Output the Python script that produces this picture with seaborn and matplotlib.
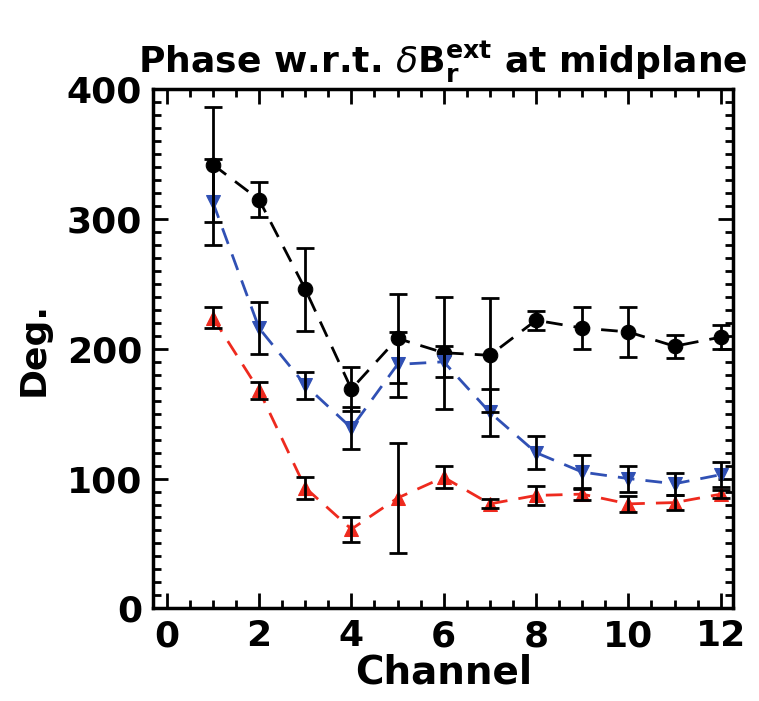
import matplotlib
matplotlib.use("Agg")
import matplotlib.pyplot as plt
from matplotlib.ticker import MultipleLocator
import numpy as np
import pandas as pd
import seaborn as sns

# Channel numbers
channels = [1, 2, 3, 4, 5, 6, 7, 8, 9, 10, 11, 12]

# Phase (deg) and uncertainties for each signal group
black_phase = [342, 315, 246, 169, 208, 197, 195, 222, 216, 213, 202, 209]
black_err = [44, 13.5, 32, 17, 34, 43, 44, 7.5, 16, 19.5, 9, 9]

blue_phase = [313, 216, 172, 139, 188, 190, 151, 120, 105, 100, 96, 103]
blue_err = [33, 20, 10.5, 16, 25, 12, 18, 12.5, 13, 10, 8.5, 9.5]

red_phase = [224, 168, 93, 61, 85, 101, 80.5, 87, 88, 80.5, 81.5, 88]
red_err = [8, 6.5, 8.5, 9.5, 42.5, 8.5, 3.5, 7, 4.5, 6, 6, 3]

x_ticks = [0, 2, 4, 6, 8, 10, 12]
y_ticks = [0, 100, 200, 300, 400]

sns.set_style("ticks")
plt.rcParams["font.family"] = ["DejaVu Sans"]
plt.rcParams["mathtext.fontset"] = "dejavusans"
for key in ["text.color", "axes.labelcolor", "xtick.color", "ytick.color", "axes.edgecolor"]:
    plt.rcParams[key] = "black"

fig = plt.figure(figsize=(7.59, 7.01), dpi=100)
ax = fig.add_axes([0.202, 0.1322, 0.764, 0.7404])

series = [
    ("black", black_phase, black_err, "black", "o"),
    ("blue", blue_phase, blue_err, "#3050b4", "v"),
    ("red", red_phase, red_err, "#ee2a1e", "^"),
]

frames = []
for name, ph, er, col, mk in series:
    frames.append(pd.DataFrame({"Channel": channels, "Deg": ph, "err": er, "group": name}))
df = pd.concat(frames, ignore_index=True)

for name, ph, er, col, mk in series:
    sub = df[df["group"] == name]
    sns.lineplot(data=sub, x="Channel", y="Deg", ax=ax, color=col, marker=mk,
                 markersize=10.5, markeredgecolor=col, linestyle=(0, (6, 4)),
                 linewidth=2.0, zorder=2)

for name, ph, er, col, mk in series:
    sub = df[df["group"] == name]
    ax.errorbar(sub["Channel"], sub["Deg"], yerr=sub["err"], fmt="none",
                ecolor="black", elinewidth=2.0, capsize=6.3, capthick=2.0, zorder=3)

ax.set_xlim(-0.29, 12.27)
ax.set_ylim(0, 400)
ax.set_xticks(x_ticks)
ax.set_yticks(y_ticks)
ax.xaxis.set_minor_locator(MultipleLocator(0.5))
ax.yaxis.set_minor_locator(MultipleLocator(10))
ax.tick_params(which="both", direction="in", top=True, right=True, width=2, color="black")
ax.tick_params(which="major", length=11, labelsize=26, pad=8, labelcolor="black")
ax.tick_params(which="minor", length=6)
for lab in ax.get_xticklabels() + ax.get_yticklabels():
    lab.set_fontweight("bold")
for sp in ax.spines.values():
    sp.set_linewidth(2.5)
    sp.set_color("black")

ax.set_xlabel("Channel", fontsize=28, fontweight="bold", labelpad=0, color="black")
ax.set_ylabel("Deg.", fontsize=26, fontweight="bold", labelpad=12, color="black")
ax.set_title(r"Phase w.r.t. $\delta\mathbf{B}_\mathbf{r}^\mathbf{ext}$ at midplane",
             fontsize=26, fontweight="bold", pad=12, color="black")

fig.savefig("out.png", dpi=100)
